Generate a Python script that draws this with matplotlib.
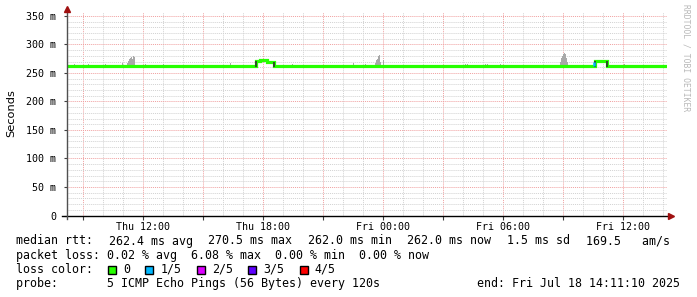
import matplotlib
matplotlib.use('Agg')
import matplotlib.pyplot as plt
import matplotlib.dates as mdates
import matplotlib.ticker as mticker
from matplotlib.lines import Line2D
from matplotlib.patches import Rectangle
import pandas as pd

# time window
t_start = pd.Timestamp("2025-07-17 08:11:10")
t_end = pd.Timestamp("2025-07-18 14:11:10")

# median rtt (ms), step changes
median_times = ["2025-07-17 08:11", "2025-07-17 17:38", "2025-07-17 17:50",
                "2025-07-17 18:11", "2025-07-17 18:32", "2025-07-18 10:35",
                "2025-07-18 11:11", "2025-07-18 14:11"]
median_ms = [262.0, 270.5, 272.0, 269.0, 262.0, 270.5, 262.0, 262.0]

# packet loss moments (number of lost pings out of 5)
loss_times = ["2025-07-18 10:33"]
loss_count = [1]

# smoke (max rtt of the pings)
smoke_times = ["2025-07-17 11:11", "2025-07-17 11:14", "2025-07-17 11:17",
               "2025-07-17 11:20", "2025-07-17 11:23", "2025-07-17 11:26",
               "2025-07-17 11:29", "2025-07-17 11:32",
               "2025-07-17 23:35", "2025-07-17 23:38", "2025-07-17 23:41",
               "2025-07-17 23:44", "2025-07-17 23:47", "2025-07-17 23:50",
               "2025-07-17 23:59",
               "2025-07-18 08:50", "2025-07-18 08:53", "2025-07-18 08:56",
               "2025-07-18 08:59", "2025-07-18 09:02", "2025-07-18 09:05",
               "2025-07-18 09:08", "2025-07-18 09:11",
               "2025-07-17 08:32", "2025-07-17 09:14", "2025-07-17 10:05",
               "2025-07-17 10:56", "2025-07-17 12:05", "2025-07-17 12:59",
               "2025-07-17 16:20", "2025-07-17 19:26", "2025-07-17 22:29",
               "2025-07-17 23:05", "2025-07-18 04:05", "2025-07-18 04:11",
               "2025-07-18 05:05", "2025-07-18 05:11", "2025-07-18 05:50",
               "2025-07-18 12:02"]
smoke_top_ms = [268, 271, 274, 277, 278, 275, 279, 278,
                268, 272, 275, 280, 281, 270,
                273,
                270, 276, 279, 284, 285, 283, 276, 270,
                266, 266, 266, 268, 266, 266,
                267, 266, 267,
                266, 266, 266, 266, 266, 266,
                266]

loss_labels = ["0", "1/5", "2/5", "3/5", "4/5"]
loss_colors = ["#26ff00", "#00b8ff", "#dd00ff", "#5e00ff", "#ff0000"]

rtt_parts = ["median rtt:", "262.4 ms avg", "270.5 ms max", "262.0 ms min",
             "262.0 ms now", "1.5 ms sd", "169.5   am/s"]

y_ticks = [0, 50, 100, 150, 200, 250, 300, 350]
y_tick_labels = ["0", "50 m", "100 m", "150 m", "200 m", "250 m", "300 m", "350 m"]

W, H = 697, 297
mono = 'DejaVu Sans Mono'
fs = 8.4
cw = 6.95  # approx char width in px


def fx(px):
    return px / W


def fy(py):
    return 1 - py / H


fig = plt.figure(figsize=(W / 100, H / 100), dpi=100)
fig.patch.set_facecolor('white')
ax = fig.add_axes([fx(67), fy(215.5), fx(667) - fx(67), fy(12) - fy(215.5)])
ax.set_facecolor('white')

# smoke
st = pd.to_datetime(smoke_times)
ax.bar(st, [v - 262 for v in smoke_top_ms], bottom=262, width=3 / 1440,
       align='edge', color='#a8a8a8', linewidth=0, zorder=2)

# median line
mt = pd.to_datetime(median_times)
ax.step(mt, median_ms, where='post', color=loss_colors[0], lw=2.3, zorder=3,
        solid_joinstyle='miter')
for i in range(1, len(median_ms) - 1):
    if abs(median_ms[i] - median_ms[i - 1]) > 4:
        ax.vlines(mt[i], min(median_ms[i], median_ms[i - 1]) - 1,
                  max(median_ms[i], median_ms[i - 1]) + 1,
                  color='#303030', lw=1.2, zorder=4)
for t, n in zip(pd.to_datetime(loss_times), loss_count):
    ax.vlines(t, 262, 270, color=loss_colors[n], lw=1.8, zorder=4)

ax.set_xlim(t_start, t_end)
ax.set_ylim(0, 357)

ax.set_yticks(y_ticks)
ax.set_yticklabels(y_tick_labels, family=mono, fontsize=7.2)
ax.yaxis.set_minor_locator(mticker.MultipleLocator(10))

ax.xaxis.set_major_locator(mdates.HourLocator(byhour=range(0, 24, 3)))
ax.xaxis.set_minor_locator(mdates.HourLocator())
ax.xaxis.set_major_formatter(mticker.FuncFormatter(
    lambda v, p: mdates.num2date(v).strftime('%a %H:%M')
    if mdates.num2date(v).hour % 6 == 0 else ''))
ax.tick_params(axis='x', which='major', length=3, width=0.8, color='#404040',
               labelsize=7.2, pad=2)
ax.tick_params(axis='y', which='major', length=2, width=0.8, color='#404040',
               labelsize=7.2, pad=6)
ax.tick_params(which='minor', length=0)
plt.setp(ax.get_xticklabels(), family=mono)

ax.grid(which='minor', color='#d2d2d2', lw=0.7, linestyle=(0, (1, 1)))
ax.grid(which='major', color='#f0a0a0', lw=0.7, linestyle=(0, (1, 1)))
ax.set_axisbelow(True)
for s in ax.spines.values():
    s.set_visible(False)

# axes lines and arrows
fig.add_artist(Line2D([fx(62), fx(669)], [fy(215.5), fy(215.5)], color='black', lw=1.0))
fig.add_artist(Line2D([fx(67), fx(67)], [fy(219), fy(10)], color='#505050', lw=1.0))
fig.add_artist(Line2D([fx(671)], [fy(215.5)], marker='>', markersize=4,
                      color='#a01010', linestyle='none'))
fig.add_artist(Line2D([fx(67)], [fy(9)], marker='^', markersize=4,
                      color='#a01010', linestyle='none'))

fig.text(fx(11), fy(113), "Seconds", rotation=90, ha='center', va='center',
         family='DejaVu Sans', fontsize=8.2)
fig.text(fx(686), fy(4), "RRDTOOL / TOBI OETIKER", rotation=270, ha='center',
         va='top', family=mono, fontsize=5.8, color='#b8b8b8')

# legend text, first line justified from x=16 to x=669
total = sum(len(p) for p in rtt_parts) * cw
gap = (669 - 16 - total) / (len(rtt_parts) - 1)
x = 16
for part in rtt_parts:
    fig.text(fx(x), fy(241), part, family=mono, fontsize=fs, va='center')
    x += len(part) * cw + gap
fig.text(fx(16), fy(255.5),
         "packet loss: 0.02 % avg  6.08 % max  0.00 % min  0.00 % now",
         family=mono, fontsize=fs, va='center')
fig.text(fx(16), fy(269.5), "loss color:", family=mono, fontsize=fs, va='center')
x = 108
for lab, col in zip(loss_labels, loss_colors):
    fig.add_artist(Rectangle((fx(x), fy(273.5)), 8 / W, 8 / H, facecolor=col,
                             edgecolor='black', lw=1.0))
    fig.text(fx(x + 15), fy(269.5), lab, family=mono, fontsize=fs, va='center')
    x = x + 15 + len(lab) * cw + 15.5
fig.text(fx(16), fy(283.5),
         "probe:       5 ICMP Echo Pings (56 Bytes) every 120s",
         family=mono, fontsize=fs, va='center')
fig.text(fx(680), fy(283.5), "end: Fri Jul 18 14:11:10 2025",
         family=mono, fontsize=fs, va='center', ha='right')

fig.savefig('out.png', dpi=100)
